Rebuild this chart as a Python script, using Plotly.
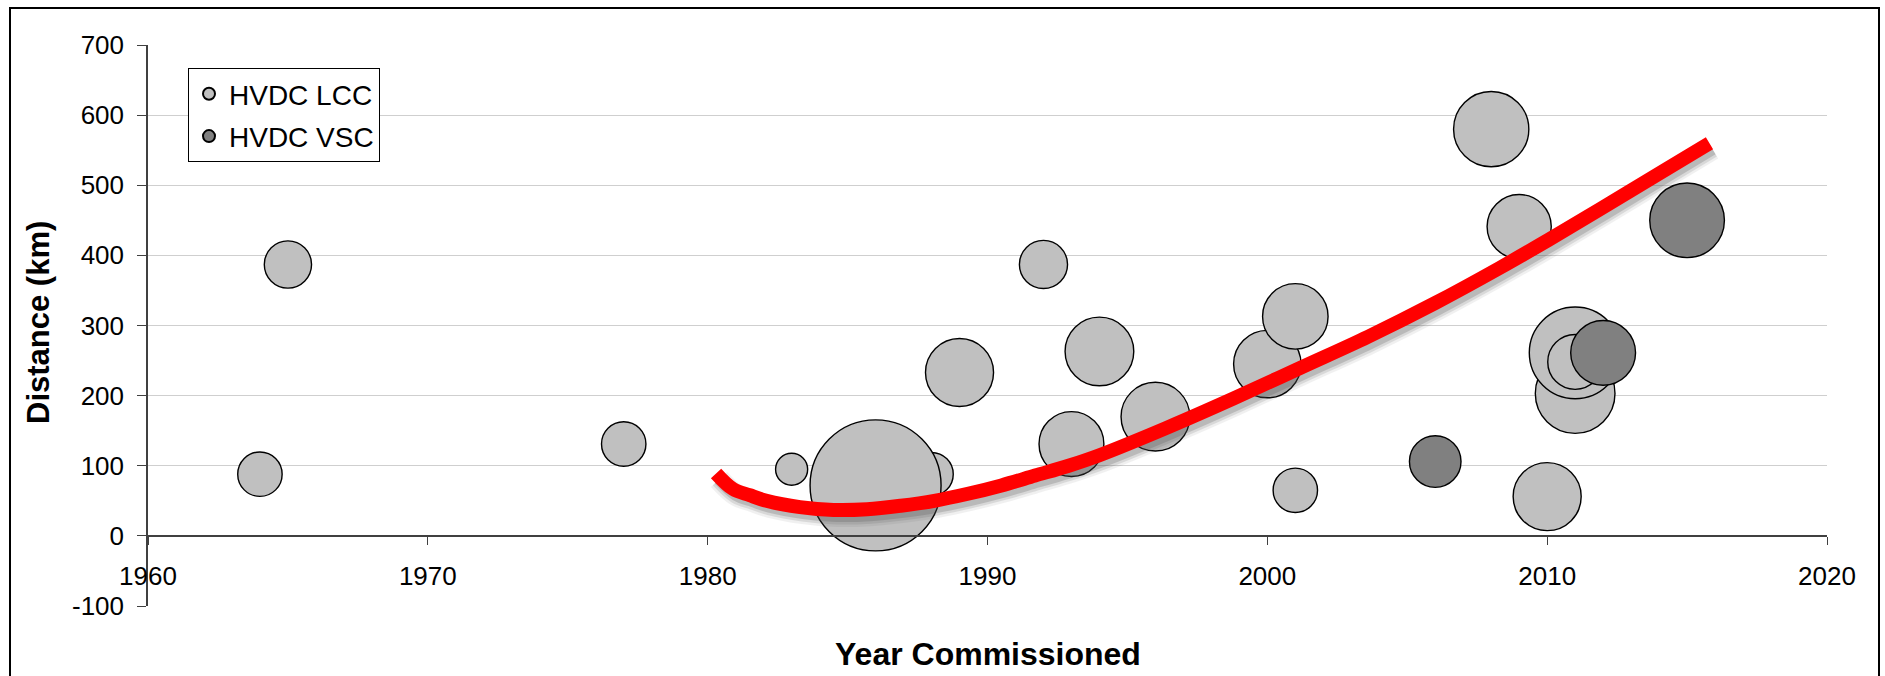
import plotly.graph_objects as go

# HVDC LCC links: year commissioned, cable distance (km), rating (MW)
lcc_year = [1964, 1965, 1977, 1983, 1988, 1986, 1989, 1992, 1993, 1994,
            1996, 2000, 2001, 2001, 2008, 2009, 2010, 2011, 2011, 2011]
lcc_dist = [88, 387, 131, 95, 88, 72, 233, 387, 131, 263,
            170, 245, 313, 65, 580, 441, 56, 203, 261, 248]
lcc_mw = [230, 260, 230, 120, 220, 2000, 540, 270, 490, 550,
          550, 530, 500, 230, 660, 480, 540, 740, 980, 350]

# HVDC VSC links
vsc_year = [2006, 2012, 2015]
vsc_dist = [106, 261, 450]
vsc_mw = [310, 490, 650]

# Trend curve through the data
trend_year = [1980.3, 1980.9, 1981.5, 1982.1, 1983.3, 1984.5, 1985.7, 1986.9,
              1988.1, 1989.3, 1990.5, 1991.7, 1992.9, 1994.0, 1996.4, 1998.8,
              2001.2, 2003.6, 2006.0, 2008.3, 2010.0, 2011.9, 2014.3, 2015.8]
trend_dist = [89, 67, 58, 50, 41, 37, 38, 43,
              50, 60, 72, 86, 100, 115, 154, 196,
              240, 284, 332, 382, 421, 466, 524, 560]

x_ticks = [1960, 1970, 1980, 1990, 2000, 2010, 2020]
y_ticks = [-100, 0, 100, 200, 300, 400, 500, 600, 700]

FONT = "Liberation Sans, Arial, sans-serif"
W, H = 1885, 676
ML, MR, MT, MB = 148, 58, 45, 70
PW, PH = W - ML - MR, H - MT - MB
XR = [1960, 2020]
YR = [-100, 700]
px_per_year = PW / (XR[1] - XR[0])
px_per_km = PH / (YR[1] - YR[0])

max_mw = max(lcc_mw + vsc_mw)
max_diam = 131
sizeref = 2.0 * max_mw / max_diam ** 2

fig = go.Figure()

fig.add_trace(go.Scatter(
    x=lcc_year, y=lcc_dist, mode="markers", name="HVDC LCC",
    legendgroup="lcc",
    marker=dict(size=lcc_mw, sizemode="area", sizeref=sizeref,
                color="#C0C0C0", opacity=1,
                line=dict(color="#000000", width=1.4)),
    hoverinfo="x+y",
))
fig.add_trace(go.Scatter(
    x=vsc_year, y=vsc_dist, mode="markers", name="HVDC VSC",
    legendgroup="vsc",
    marker=dict(size=vsc_mw, sizemode="area", sizeref=sizeref,
                color="#808080", opacity=1,
                line=dict(color="#000000", width=1.4)),
    hoverinfo="x+y",
))

# soft drop shadow under the trend line (axes offset a few pixels down/right)
for w, op in [(22, 0.08), (17, 0.14), (12, 0.22)]:
    fig.add_trace(go.Scatter(
        x=trend_year, y=trend_dist, mode="lines", showlegend=False,
        line=dict(color="#505050", width=w, shape="spline", smoothing=1.0),
        opacity=op, xaxis="x2", yaxis="y2", hoverinfo="skip",
    ))

fig.add_trace(go.Scatter(
    x=trend_year, y=trend_dist, mode="lines", showlegend=False,
    line=dict(color="#FF0000", width=14, shape="spline", smoothing=1.0),
    xaxis="x3", yaxis="y3", hoverinfo="skip",
))

dx = 3 / px_per_year
dy = 6 / px_per_km

fig.update_layout(
    width=W, height=H,
    margin=dict(l=ML, r=MR, t=MT, b=MB, pad=0),
    paper_bgcolor="white", plot_bgcolor="white",
    font=dict(family=FONT, color="#000000", size=26),
    showlegend=True,
    legend=dict(
        x=(188 - ML) / PW, y=(H - MB - 68) / PH,
        xanchor="left", yanchor="top",
        bgcolor="white", bordercolor="#000000", borderwidth=1,
        font=dict(family=FONT, size=28, color="#000000"),
        itemsizing="constant", tracegroupgap=3,
    ),
    xaxis=dict(
        range=XR, tickvals=x_ticks, ticktext=[str(v) for v in x_ticks],
        showgrid=False, zeroline=False,
        showline=True, linecolor="#404040", linewidth=1.5,
        ticks="outside", ticklen=8, tickwidth=1.2, tickcolor="#404040",
        anchor="free", position=(0 - YR[0]) / (YR[1] - YR[0]),
        tickfont=dict(family=FONT, size=26, color="#000000"),
        ticklabelstandoff=9,
    ),
    yaxis=dict(
        range=YR, tickvals=y_ticks, ticktext=[str(v) for v in y_ticks],
        showgrid=True, gridcolor="#CFCFCF", gridwidth=1.2,
        zeroline=False,
        showline=True, linecolor="#404040", linewidth=1.5,
        ticks="outside", ticklen=9, tickwidth=1.2, tickcolor="#404040",
        tickfont=dict(family=FONT, size=26, color="#000000"),
        ticklabelstandoff=8,
    ),
    xaxis2=dict(range=[XR[0] - dx, XR[1] - dx], overlaying="x", visible=False),
    yaxis2=dict(range=[YR[0] + dy, YR[1] + dy], overlaying="y", visible=False),
    xaxis3=dict(range=XR, overlaying="x", visible=False),
    yaxis3=dict(range=YR, overlaying="y", visible=False),
)

# axis titles
fig.add_annotation(
    text="<b>Year Commissioned</b>", xref="paper", yref="paper",
    x=0.5, y=(H - MB - 654) / PH, xanchor="center", yanchor="middle",
    showarrow=False, font=dict(family=FONT, size=32, color="#000000"),
)
fig.add_annotation(
    text="<b>Distance (km)</b>", xref="paper", yref="paper",
    x=(39 - ML) / PW, y=(H - MB - 323) / PH, xanchor="center", yanchor="middle",
    textangle=-90, showarrow=False,
    font=dict(family=FONT, size=31, color="#000000"),
)

# chart frame
fig.add_shape(
    type="rect", xref="paper", yref="paper", layer="below",
    x0=(10 - ML) / PW, x1=(1879 - ML) / PW,
    y0=(H - MB - 690) / PH, y1=(H - MB - 8) / PH,
    line=dict(color="#000000", width=2), fillcolor="rgba(0,0,0,0)",
)

fig.write_html("out.html")
